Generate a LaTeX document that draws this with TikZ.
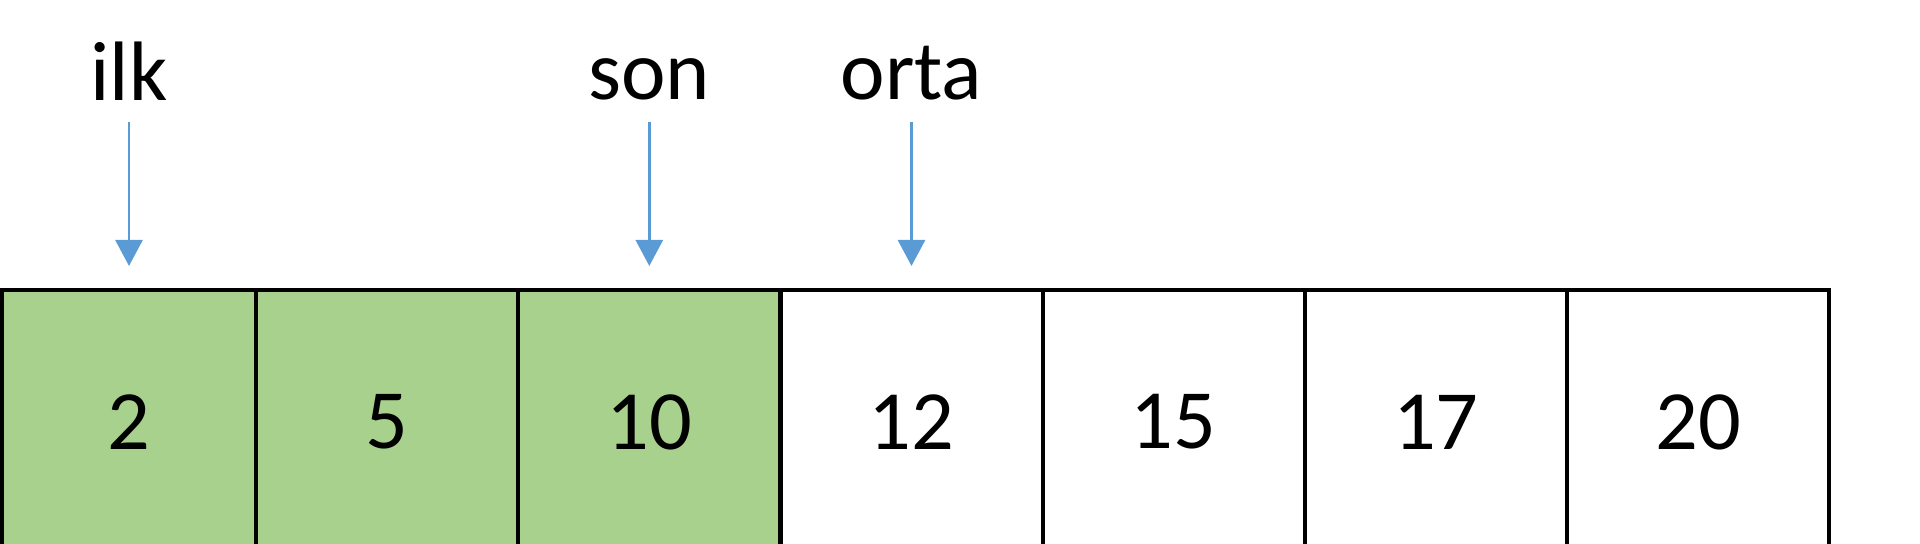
\documentclass[tikz,border=0pt]{standalone}
\usepackage{fontspec}
\setmainfont{Carlito}[Numbers=Lining]
\usetikzlibrary{arrows.meta,positioning}
\definecolor{donegreen}{HTML}{A9D18E}
\definecolor{ptrblue}{HTML}{5B9BD5}

\begin{document}
\begin{tikzpicture}[cell/.style={rectangle,draw=black,line width=1.2pt,minimum width=2.622cm,minimum height=2.64cm,inner sep=0pt,outer sep=0pt,font=\fontsize{24}{28}\selectfont},
done/.style={fill=donegreen},
lbl/.style={inner sep=0pt,font=\fontsize{24}{28}\selectfont},
ptr/.style={draw=ptrblue,line width=0.8pt,-{Triangle[width=0.27cm,length=0.26cm]},shorten <=0.21cm,shorten >=0.24cm}]
\useasboundingbox (0,0) rectangle (19.2,5.44);

% array cells
\node(c1)[cell,done,minimum width=2.54cm] at (1.29,1.22) {2};
\node(c2)[cell,done,right=0pt of c1]{5};
\node(c3)[cell,done,right=0pt of c2]{10};
\node(c4)[cell,right=0pt of c3]{12};
\node(c5)[cell,right=0pt of c4]{15};
\node(c6)[cell,right=0pt of c5]{17};
\node(c7)[cell,right=0pt of c6]{20};

% pointers
\node(ilk)[lbl,above=1.89cm of c1]{ilk};
\node(son)[lbl,above=1.89cm of c3]{son};
\node(orta)[lbl,above=1.89cm of c4]{orta};

\draw [ptr] (ilk) to (c1);
\draw [ptr] (son) to (c3);
\draw [ptr] (orta) to (c4);
\end{tikzpicture}
\end{document}
